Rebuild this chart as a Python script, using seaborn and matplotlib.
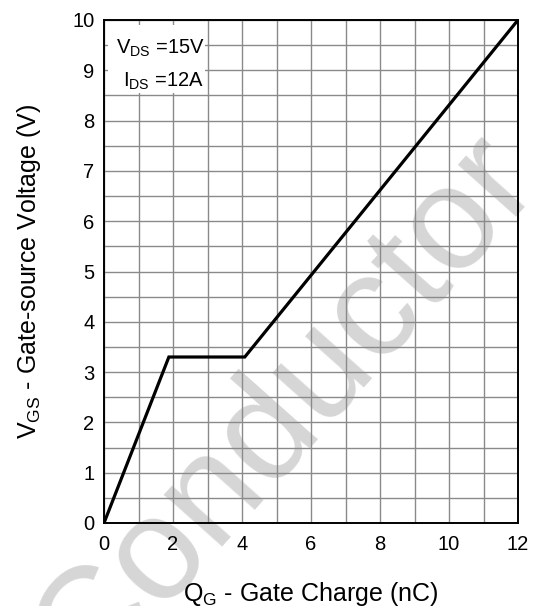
import matplotlib
matplotlib.use("Agg")
import matplotlib.pyplot as plt
from matplotlib.patches import Rectangle
from matplotlib.ticker import MultipleLocator
import pandas as pd
import seaborn as sns

# Gate charge curve: Qg (nC) vs Vgs (V)
gate_charge_nc = [0.0, 1.88, 4.08, 12.0]
gate_voltage_v = [0.0, 3.3, 3.3, 10.0]

x_ticks = [0, 2, 4, 6, 8, 10, 12]
y_ticks = [0, 1, 2, 3, 4, 5, 6, 7, 8, 9, 10]

cond_lines = ["$\\mathregular{V_{DS}}$ =15V", "$\\mathregular{I_{DS}}$ =12A"]

sns.set_theme(style="white")
plt.rcParams["font.family"] = ["Liberation Sans", "DejaVu Sans"]
plt.rcParams["mathtext.fontset"] = "custom"
plt.rcParams["mathtext.rm"] = "Liberation Sans"

fig = plt.figure(figsize=(5.34, 6.06), dpi=100)
ax = fig.add_axes([104 / 534, 1 - 523 / 606, 414 / 534, 503 / 606])
ax.set_facecolor("none")

# background watermark
fig.text(314 / 534, 1 - 434 / 606, "Conductor", fontsize=106,
         color="#d6d6d6", family="Liberation Sans", rotation=48.3,
         rotation_mode="anchor", ha="center", va="baseline", zorder=-5)

df = pd.DataFrame({"qg": gate_charge_nc, "vgs": gate_voltage_v})
sns.lineplot(data=df, x="qg", y="vgs", ax=ax, color="black", linewidth=2.3,
             sort=False, zorder=5, solid_joinstyle="miter")

ax.set_xlim(0, 12)
ax.set_ylim(0, 10)
ax.xaxis.set_minor_locator(MultipleLocator(1))
ax.yaxis.set_minor_locator(MultipleLocator(0.5))
ax.set_xticks(x_ticks)
ax.set_yticks(y_ticks)
ax.set_xticklabels([str(t) for t in x_ticks])
ax.set_yticklabels([str(t) for t in y_ticks])
ax.grid(True, which="both", color="#8a8a8a", linewidth=1.0)
ax.set_axisbelow(True)
ax.tick_params(axis="both", which="both", length=0, labelsize=14.5,
               colors="black")
ax.tick_params(axis="x", pad=9)
ax.tick_params(axis="y", pad=7)

for sp in ax.spines.values():
    sp.set_color("black")
    sp.set_linewidth(1.4)
    sp.set_zorder(4)

# condition box
ax.add_patch(Rectangle((0.12, 8.54), 2.81, 1.36, facecolor="white",
                       edgecolor="none", zorder=3))
ax.text(0.36, 9.44, cond_lines[0], fontsize=14.5, color="black",
        va="center", ha="left", zorder=4)
ax.text(0.55, 8.79, cond_lines[1], fontsize=14.5, color="black",
        va="center", ha="left", zorder=4)

ax.set_xlabel("$\\mathregular{Q_G}$ - Gate Charge (nC)", fontsize=18,
              color="black", labelpad=18)
ax.set_ylabel("$\\mathregular{V_{GS}}$ - Gate-source Voltage (V)",
              fontsize=18, color="black", labelpad=21)

fig.savefig("out.png", dpi=100)
